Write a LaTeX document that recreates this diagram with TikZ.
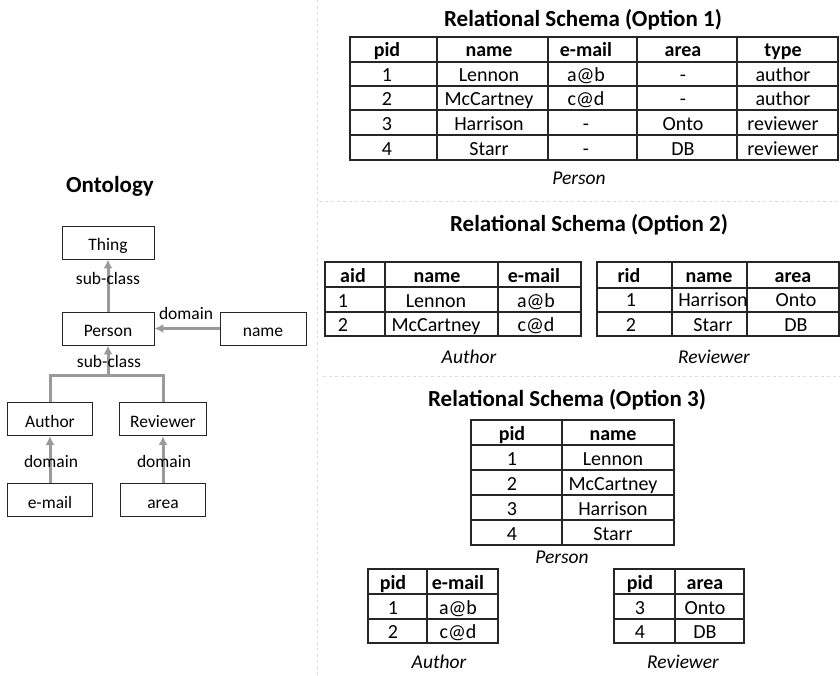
\documentclass[tikz,border=0pt]{standalone}
\usepackage{fontspec}
\setmainfont{Carlito}
\usetikzlibrary{arrows.meta}

\definecolor{arrowgray}{HTML}{9A9A9A}
\definecolor{sepgray}{HTML}{DDDDDD}
\definecolor{linegray}{HTML}{262626}

\tikzset{
  concept/.style={draw=linegray, line width=0.9pt, minimum height=33pt, inner sep=0pt,
    text height=16pt, text depth=0pt, font=\fontsize{17.5}{20}\selectfont},
  rel/.style={draw=arrowgray, line width=3pt, -{Latex[length=9pt,width=9pt]}},
  link/.style={draw=arrowgray, line width=3pt},
  edgelabel/.style={anchor=base, inner sep=0pt, font=\fontsize{17.5}{20}\selectfont},
  title/.style={anchor=base, inner sep=0pt, font=\fontsize{23}{26}\selectfont\bfseries},
  caption/.style={anchor=base, inner sep=0pt, font=\fontsize{19.5}{22}\selectfont\itshape},
  cell/.style={anchor=base, inner sep=0pt, font=\fontsize{20}{24}\selectfont},
  head/.style={cell, font=\fontsize{20}{24}\selectfont\bfseries},
  grid/.style={draw=linegray, line width=1.3pt},
  separator/.style={draw=sepgray, line width=1pt, dashed}
}

\begin{document}
\begin{tikzpicture}[x=1pt, y=-1pt]
  \useasboundingbox (0,0) rectangle (840,676);

  % separators
  \draw[separator] (317,0) -- (317,676);
  \draw[separator] (319,202) -- (840,202);
  \draw[separator] (323,376) -- (840,376);

  % ontology
  \node[title] (onto) at (110,193) {Ontology};

  \node[concept, minimum width=92pt] (thing) at (108,242.5) {Thing};
  \node[concept, minimum width=92pt] (person) at (108,328.5) {Person};
  \node[concept, minimum width=86pt] (name) at (263,328.5) {name};
  \node[concept, minimum width=85pt] (author) at (50,419) {Author};
  \node[concept, minimum width=87pt] (reviewer) at (163,419) {Reviewer};
  \node[concept, minimum width=85pt] (email) at (50,500) {e-mail};
  \node[concept, minimum width=85pt] (area) at (163,500) {area};
  \coordinate (join) at (108,375);

  \draw[rel] (person) to (thing);
  \draw[rel] (name) to (person);
  \draw[link] (author.north) |- (join) -| (reviewer.north);
  \draw[rel] (join) to (person);
  \draw[rel] (email) to (author);
  \draw[rel] (area) to (reviewer);

  \node[edgelabel] (sub1) at (108,284) {sub-class};
  \node[edgelabel] (dom1) at (186,319) {domain};
  \node[edgelabel] (sub2) at (109,367) {sub-class};
  \node[edgelabel] (dom2) at (51,467) {domain};
  \node[edgelabel] (dom3) at (164,467) {domain};

  % option 1
  \node[title] (t1) at (583,27) {Relational Schema (Option 1)};
  \draw[grid] (350,37) rectangle (838,160);
  \foreach \y in {62,86,110,135} \draw[grid] (350,\y) -- (838,\y);
  \foreach \x in {437,548,637,737} \draw[grid] (\x,37) -- (\x,160);
  \node[head] (o1h1) at (387,57) {pid};
  \node[head] (o1h2) at (489,57) {name};
  \node[head] (o1h3) at (586,57) {e-mail};
  \node[head] (o1h4) at (683,57) {area};
  \node[head] (o1h5) at (783,57) {type};
  \foreach \i/\y/\a/\b/\c/\d/\e in {1/81.5/1/Lennon/a@b/-/author,
      2/105.5/2/McCartney/c@d/-/author,
      3/130.5/3/Harrison/-/Onto/reviewer,
      4/155.5/4/Starr/-/DB/reviewer} {
    \node[cell] (o1r\i a) at (387,\y) {\a};
    \node[cell] (o1r\i b) at (489,\y) {\b};
    \node[cell] (o1r\i c) at (586,\y) {\c};
    \node[cell] (o1r\i d) at (683,\y) {\d};
    \node[cell] (o1r\i e) at (783,\y) {\e};
  }
  \node[caption] (c1) at (579,185) {Person};

  % option 2
  \node[title] (t2) at (589,232) {Relational Schema (Option 2)};
  \draw[grid, line width=1.9pt] (325,262) rectangle (581,336);
  \foreach \y in {287,312} \draw[grid, line width=1.9pt] (325,\y) -- (581,\y);
  \foreach \x in {385,498} \draw[grid, line width=1.9pt] (\x,262) -- (\x,336);
  \node[head] (o2ah1) at (353,282) {aid};
  \node[head] (o2ah2) at (437,282) {name};
  \node[head] (o2ah3) at (534,282) {e-mail};
  \foreach \i/\y/\a/\b/\c in {1/307/1/Lennon/a@b, 2/331.5/2/McCartney/c@d} {
    \node[cell] (o2ar\i a) at (343,\y) {\a};
    \node[cell] (o2ar\i b) at (436,\y) {\b};
    \node[cell] (o2ar\i c) at (536,\y) {\c};
  }
  \node[caption] (c2a) at (469,363) {Author};

  \draw[grid] (597,262) rectangle (839,336);
  \foreach \y in {288,312} \draw[grid] (597,\y) -- (839,\y);
  \foreach \x in {672,747} \draw[grid] (\x,262) -- (\x,336);
  \node[head] (o2rh1) at (629,282) {rid};
  \node[head] (o2rh2) at (709,282) {name};
  \node[head] (o2rh3) at (793,282) {area};
  \foreach \i/\y/\a/\b/\c in {1/306/1/Harrison/Onto, 2/331.5/2/Starr/DB} {
    \node[cell] (o2rr\i a) at (631,\y) {\a};
    \node[cell] (o2rr\i b) at (713,\y) {\b};
    \node[cell] (o2rr\i c) at (796,\y) {\c};
  }
  \node[caption] (c2r) at (714,363) {Reviewer};

  % option 3
  \node[title] (t3) at (567,406) {Relational Schema (Option 3)};
  \draw[grid] (471,420) rectangle (674,545);
  \foreach \y in {445,470,495,520} \draw[grid] (471,\y) -- (674,\y);
  \draw[grid] (562,420) -- (562,545);
  \node[head] (o3ph1) at (512,440) {pid};
  \node[head] (o3ph2) at (613,440) {name};
  \foreach \i/\y/\a/\b in {1/465.5/1/Lennon, 2/490.5/2/McCartney,
      3/515.5/3/Harrison, 4/540.5/4/Starr} {
    \node[cell] (o3pr\i a) at (512,\y) {\a};
    \node[cell] (o3pr\i b) at (613,\y) {\b};
  }
  \node[caption] (c3p) at (562,563) {Person};

  \draw[grid] (368,569) rectangle (498,643);
  \foreach \y in {594,619} \draw[grid] (368,\y) -- (498,\y);
  \draw[grid] (427,569) -- (427,643);
  \node[head] (o3ah1) at (393,589) {pid};
  \node[head] (o3ah2) at (458,589) {e-mail};
  \foreach \i/\y/\a/\b in {1/614.5/1/a@b, 2/638.5/2/c@d} {
    \node[cell] (o3ar\i a) at (393,\y) {\a};
    \node[cell] (o3ar\i b) at (458,\y) {\b};
  }
  \node[caption] (c3a) at (439,668) {Author};

  \draw[grid] (614,569) rectangle (744,643);
  \foreach \y in {594,619} \draw[grid] (614,\y) -- (744,\y);
  \draw[grid] (675,569) -- (675,643);
  \node[head] (o3rh1) at (640,589) {pid};
  \node[head] (o3rh2) at (705,589) {area};
  \foreach \i/\y/\a/\b in {1/614.5/3/Onto, 2/638.5/4/DB} {
    \node[cell] (o3rr\i a) at (640,\y) {\a};
    \node[cell] (o3rr\i b) at (705,\y) {\b};
  }
  \node[caption] (c3r) at (683,668) {Reviewer};
\end{tikzpicture}
\end{document}
